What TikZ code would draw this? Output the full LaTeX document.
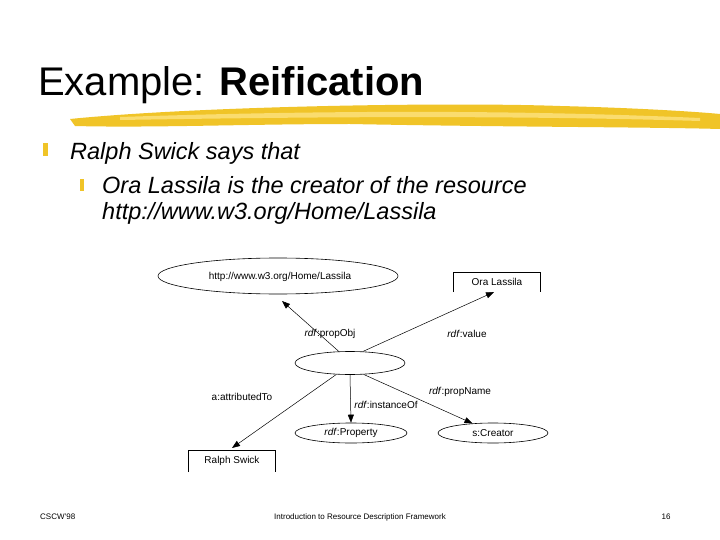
\documentclass[tikz,border=0pt]{standalone}
\usepackage{fontspec}
\setmainfont{Liberation Sans}
\usetikzlibrary{arrows.meta,shapes.geometric}
\definecolor{brush}{RGB}{240,196,40}
\definecolor{brushlt}{RGB}{250,220,110}
\begin{document}
\begin{tikzpicture}[x=1pt,y=-1pt,
  ell/.style={draw,ellipse,line width=0.6pt,inner sep=0pt},
  lbl/.style={font=\fontsize{10}{12}\selectfont,inner sep=1pt},
  arr/.style={line width=0.5pt,-{Triangle[length=8pt,width=6pt]}},
  bul/.style={fill=brush,minimum width=5pt,minimum height=13pt,inner sep=0pt}]
\useasboundingbox[fill=white] (0,0) rectangle (720,540);
% title
\node[anchor=base west,inner sep=0pt,font=\fontsize{40}{44}\selectfont] (title) at (38,96) {Example: \textbf{Reification}};
% brush stroke
\fill[brush] (70,119) .. controls (200,106) and (450,102) .. (560,106) .. controls (640,108) and (700,112) .. (720,114)
  -- (720,129) .. controls (650,127) and (500,127) .. (350,124) .. controls (250,124) and (150,128) .. (75,126) -- cycle;
\fill[brushlt] (120,117) .. controls (300,111) and (500,109) .. (700,118) -- (700,121) .. controls (500,115) and (300,117) .. (120,120) -- cycle;
% bullets
\node[bul] (b1) at (45.5,150) {};
\node[anchor=base west,inner sep=0pt,font=\fontsize{23.5}{26}\selectfont\itshape] (t1) at (70,160) {Ralph Swick says that};
\node[bul,minimum width=4pt,minimum height=12pt] (b2) at (82,185) {};
\node[anchor=base west,inner sep=0pt,font=\fontsize{23.5}{26}\selectfont\itshape,align=left] (t2) at (102,194) {Ora Lassila is the creator of the resource};
\node[anchor=base west,inner sep=0pt,font=\fontsize{23.5}{26}\selectfont\itshape] (t3) at (102,220) {http://www.w3.org/Home/Lassila};
% diagram
\node[ell,minimum width=240pt,minimum height=36pt] (res) at (278,276) {};
\node[font=\fontsize{10}{12}\selectfont,inner sep=0pt] (rest) at (280,277) {http://www.w3.org/Home/Lassila};
\coordinate (restip) at (282,301);
\node[ell,minimum width=110pt,minimum height=23pt] (st) at (350,363) {};
\node[ell,minimum width=112pt,minimum height=20pt,font=\fontsize{10}{12}\selectfont] (prop) at (351,433) {\textit{rdf}:Property};
\node[ell,minimum width=110pt,minimum height=20pt,font=\fontsize{10}{12}\selectfont] (cr) at (493,433) {s:Creator};
% open-bottom boxes
\coordinate (ora) at (494,292);
\draw[line width=0.6pt] (453,292) |- (540,272) -- (540,292);
\node[font=\fontsize{10}{12}\selectfont,inner sep=0pt] (orat) at (497,282) {Ora Lassila};
\coordinate (ral) at (232,448);
\draw[line width=0.6pt] (188,472) |- (275,450) -- (275,472);
\node[font=\fontsize{10}{12}\selectfont,inner sep=0pt] (ralt) at (232,461) {Ralph Swick};
% connectors
\draw[arr] (st.134) -- (restip);
\draw[arr] (st.42) -- (ora);
\draw[arr] (st.south) -- (prop.north);
\draw[arr] (st.-40) -- (cr.155);
\draw[arr] (st.-140) -- (ral);
% labels
\node[lbl] (l1) at (330,334) {\textit{rdf}:propObj};
\node[lbl] (l2) at (467,334) {\textit{rdf}:value};
\node[lbl] (l3) at (242,397) {a:attributedTo};
\node[lbl] (l4) at (386,405) {\textit{rdf}:instanceOf};
\node[lbl] (l5) at (460,392) {\textit{rdf}:propName};
% footer
\node[anchor=west,font=\fontsize{8}{10}\selectfont,inner sep=0pt] (f1) at (40,517) {CSCW'98};
\node[font=\fontsize{8}{10}\selectfont,inner sep=0pt] (f2) at (360,517) {Introduction to Resource Description Framework};
\node[font=\fontsize{8}{10}\selectfont,inner sep=0pt] (f3) at (666,517) {16};
\end{tikzpicture}
\end{document}
